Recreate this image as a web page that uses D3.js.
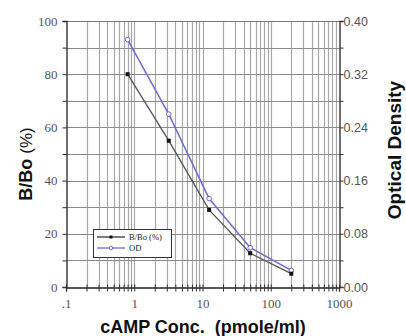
<!DOCTYPE html>
<html><head><meta charset="utf-8">
<script src="https://cdn.jsdelivr.net/npm/d3@7"></script>
<style>body{margin:0;background:#fff}svg{display:block}</style>
</head><body>
<script>
const conc = [0.8, 3.2, 12.5, 50, 200];
const bbo = [80, 55, 29, 12.7, 5];
const od = [0.372, 0.26, 0.133, 0.059, 0.025];
const xTickVals = [0.1, 1, 10, 100, 1000];
const xTickLabels = [".1", "1", "10", "100", "1000"];
const yLeftTicks = [0, 20, 40, 60, 80, 100];
const yRightTicks = [0, 0.08, 0.16, 0.24, 0.32, 0.40];
const legendNames = ["B/Bo (%)", "OD"];

const W = 406, H = 336;
const m = {l: 66, r: 339, t: 21, b: 287};
const svg = d3.select("body").append("svg").attr("width", W).attr("height", H);
const x = d3.scaleLog().domain([0.1, 1000]).range([m.l, m.r]);
const yL = d3.scaleLinear().domain([0, 100]).range([m.b, m.t]);
const yR = d3.scaleLinear().domain([0, 0.4]).range([m.b, m.t]);

// grid
const minor = [];
for (let d = 0.1; d < 1000; d *= 10) for (let k = 2; k <= 9; k++) minor.push(d * k);
const g = svg.append("g");
g.selectAll(".vg").data(minor.concat([1, 10, 100])).join("line")
  .attr("x1", d => Math.round(x(d)) + 0.5).attr("x2", d => Math.round(x(d)) + 0.5)
  .attr("y1", m.t).attr("y2", m.b).attr("stroke", "#a8a8a8").attr("stroke-width", 1.2);
g.selectAll(".hg").data(d3.range(10, 100, 10)).join("line")
  .attr("y1", d => Math.round(yL(d)) + 0.5).attr("y2", d => Math.round(yL(d)) + 0.5)
  .attr("x1", m.l).attr("x2", m.r).attr("stroke", "#8c8c8c").attr("stroke-width", 1);
svg.append("line").attr("x1", m.l).attr("x2", m.r).attr("y1", m.t + 0.5).attr("y2", m.t + 0.5).attr("stroke", "#777");

// axes
const axL = d3.axisLeft(yL).tickValues(d3.range(0, 101, 10)).tickSize(4).tickFormat(d => yLeftTicks.includes(d) ? d : "");
const gl = svg.append("g").attr("transform", `translate(${m.l + 0.5},0)`).call(axL);
const axR = d3.axisRight(yR).tickValues(d3.range(0, 11).map(i => i * 0.04)).tickSize(4)
  .tickFormat((d, i) => i % 2 === 0 ? yRightTicks[i / 2].toFixed(2) : "");
const gr = svg.append("g").attr("transform", `translate(${m.r + 0.5},0)`).call(axR);
const axB = d3.axisBottom(x).tickValues(minor.concat(xTickVals)).tickSize(4)
  .tickFormat(d => { const i = xTickVals.indexOf(d); return i >= 0 ? xTickLabels[i] : ""; });
const gb = svg.append("g").attr("transform", `translate(0,${m.b + 0.5})`).call(axB);
[gl, gr, gb].forEach(a => {
  a.select(".domain").attr("stroke", "#222").attr("stroke-width", 1.3);
  a.selectAll(".tick line").attr("stroke", "#333");
  a.selectAll("text").attr("fill", "#555").attr("font-size", 13);
});
gl.selectAll("text").attr("font-family", "Liberation Serif").attr("x", -9);
gb.selectAll("text").attr("font-family", "Liberation Serif").attr("y", 20).attr("dy", 0);
gb.selectAll(".tick line").attr("y1", -3);
gr.selectAll("text").attr("font-family", "Liberation Sans").attr("font-size", 12.5).attr("x", 4);

// series
const pts = conc.map((c, i) => ({c, b: bbo[i], o: od[i]}));
svg.append("path").datum(pts).attr("fill", "none").attr("stroke", "#6b6bd8").attr("stroke-width", 1.5)
  .attr("d", d3.line().x(d => x(d.c)).y(d => yR(d.o)));
svg.append("path").datum(pts).attr("fill", "none").attr("stroke", "#555").attr("stroke-width", 1.3)
  .attr("d", d3.line().x(d => x(d.c)).y(d => yL(d.b)));
svg.selectAll(".mo").data(pts).join("circle").attr("cx", d => x(d.c)).attr("cy", d => yR(d.o))
  .attr("r", 2.3).attr("fill", "#fff").attr("stroke", "#6b6bd8").attr("stroke-width", 1);
svg.selectAll(".mb").data(pts).join("rect").attr("x", d => x(d.c) - 2).attr("y", d => yL(d.b) - 2)
  .attr("width", 4).attr("height", 4).attr("fill", "#111");

// legend
const lg = svg.append("g");
lg.append("rect").attr("x", 93.5).attr("y", 229.5).attr("width", 78).attr("height", 28)
  .attr("fill", "#fff").attr("stroke", "#333");
const lc = ["#333", "#6b6bd8"];
legendNames.forEach((n, i) => {
  const yy = 237 + i * 11;
  lg.append("line").attr("x1", 97).attr("x2", 125).attr("y1", yy).attr("y2", yy).attr("stroke", lc[i]).attr("stroke-width", 1.3);
  if (i === 0) lg.append("rect").attr("x", 109.5).attr("y", yy - 1.5).attr("width", 3).attr("height", 3).attr("fill", "#111");
  else lg.append("circle").attr("cx", 111).attr("cy", yy).attr("r", 1.8).attr("fill", "#fff").attr("stroke", lc[i]);
  lg.append("text").attr("x", 129).attr("y", yy + 3).text(n).attr("font-family", "Liberation Serif")
    .attr("font-size", 8.5).attr("fill", "#222");
});

// titles
const tl = svg.append("text").attr("transform", "translate(32,164) rotate(-90)").attr("text-anchor", "middle")
  .attr("font-family", "Liberation Sans").attr("font-size", 18).attr("fill", "#111");
tl.append("tspan").attr("font-weight", "bold").text("B/Bo ");
tl.append("tspan").attr("font-size", 17).text("(%)");
svg.append("text").attr("transform", "translate(401,150) rotate(-90)").attr("text-anchor", "middle")
  .attr("font-family", "Liberation Sans").attr("font-weight", "bold").attr("font-size", 19).attr("fill", "#111")
  .text("Optical Density");
svg.append("text").attr("x", 203).attr("y", 333).attr("text-anchor", "middle")
  .attr("font-family", "Liberation Sans").attr("font-weight", "bold").attr("font-size", 18).attr("fill", "#111")
  .style("white-space", "pre").text("cAMP Conc.  (pmole/ml)");
</script>
</body></html>
